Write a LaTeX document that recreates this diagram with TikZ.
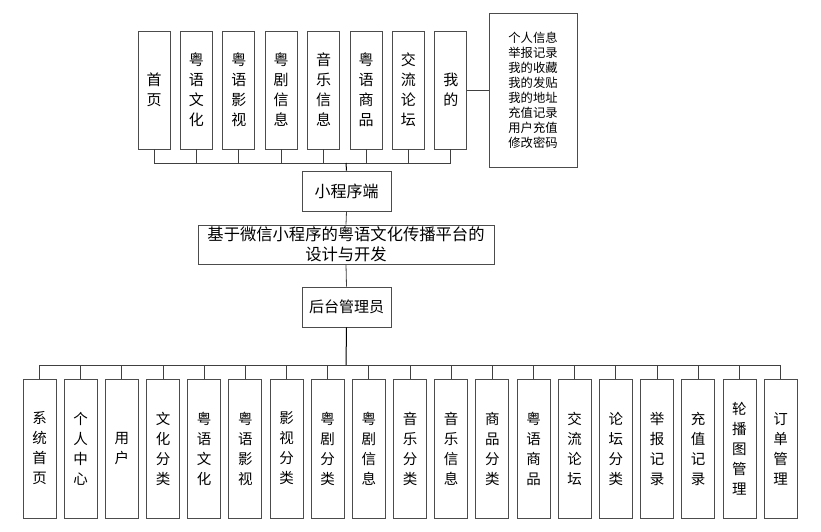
\documentclass[tikz,border=0pt]{standalone}
\usepackage{fontspec}
\setmainfont{Noto Sans CJK SC}
\newfontfamily\cjk{Noto Sans CJK SC}
\begin{document}
\begin{tikzpicture}[x=1pt,y=-1pt,
  boxline/.style={draw=black!70, line width=0.8pt},
  conn/.style={draw=black!75, line width=0.8pt},
  topbox/.style={boxline, minimum width=32pt, minimum height=118pt, inner sep=0pt, align=center, font=\fontsize{15}{20}\selectfont},
  botbox/.style={boxline, minimum width=33pt, minimum height=139pt, inner sep=0pt, align=center, font=\fontsize{14.5}{20}\selectfont},
  midbox/.style={boxline, inner sep=0pt, align=center}
]
\useasboundingbox[fill=white] (0,0) rectangle (821,532);

% top row
\foreach \t [count=\i] in {首\\页, 粤\\语\\文\\化, 粤\\语\\影\\视, 粤\\剧\\信\\息, 音\\乐\\信\\息, 粤\\语\\商\\品, 交\\流\\论\\坛, 我\\的}{
  \node[topbox] (t\i) at ({154+42.4*(\i-1)},90) {\t};
}
\node[boxline, minimum width=88pt, minimum height=154pt, inner sep=0pt, align=center,
      font=\fontsize{12.3}{15}\selectfont] (mine) at (533,90)
  {个人信息\\举报记录\\我的收藏\\我的发贴\\我的地址\\充值记录\\用户充值\\修改密码};
\draw[conn] (t8.east) -- (mine.west);

\node[midbox, minimum width=89pt, minimum height=40pt, font=\fontsize{16}{20}\selectfont] (app) at (346.5,191) {小程序端};
\node[midbox, minimum width=296pt, minimum height=39pt, font=\fontsize{16.3}{20}\selectfont] (main) at (346,244.5) {基于微信小程序的粤语文化传播平台的\\设计与开发};
\node[midbox, minimum width=89pt, minimum height=40pt, font=\fontsize{15}{20}\selectfont] (admin) at (346.5,307) {后台管理员};

\coordinate (tbus) at (346,163);
\foreach \i in {1,...,8}{
  \draw[conn] (t\i.south) -- (t\i.south |- tbus);
}
\draw[conn] (t1.south |- tbus) -- (t8.south |- tbus);
\draw[conn, draw=black, line width=1pt] (tbus) -- (app.north);
\draw[conn] (app.south) -- (main.north);
\draw[conn] (main.south) -- (admin.north);

% bottom row
\foreach \t [count=\i] in {系\\统\\首\\页, 个\\人\\中\\心, 用\\户, 文\\化\\分\\类, 粤\\语\\文\\化, 粤\\语\\影\\视, 影\\视\\分\\类, 粤\\剧\\分\\类, 粤\\剧\\信\\息, 音\\乐\\分\\类, 音\\乐\\信\\息, 商\\品\\分\\类, 粤\\语\\商\\品, 交\\流\\论\\坛, 论\\坛\\分\\类, 举\\报\\记\\录, 充\\值\\记\\录, 轮\\播\\图\\管\\理, 订\\单\\管\\理}{
  \node[botbox] (b\i) at ({39.5+41.17*(\i-1)},448.5) {\t};
}
\coordinate (bbus) at (346,365);
\draw[conn, draw=black, line width=1pt] (admin.south) -- (bbus);
\foreach \i in {1,...,19}{
  \draw[conn] (b\i.north) -- (b\i.north |- bbus);
}
\draw[conn] (b1.north |- bbus) -- (b19.north |- bbus);
\end{tikzpicture}
\end{document}
